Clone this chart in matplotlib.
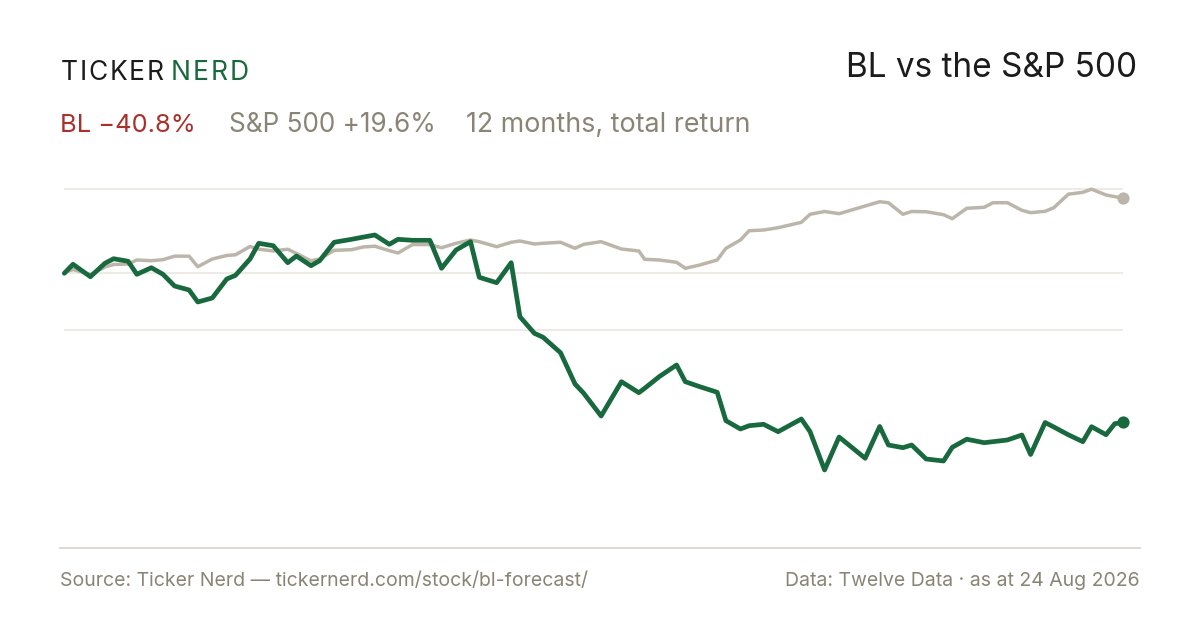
import matplotlib
matplotlib.use("Agg")
import matplotlib.pyplot as plt

plt.rcParams['font.family'] = ['Inter', 'DejaVu Sans']

# ---- data (day offset from 24 Aug 2025, cumulative total return in %) ----
days = [0, 3, 9, 14, 17, 22, 25, 30, 34, 38, 43, 46, 51, 56, 59, 64, 67, 72, 77, 80,
        85, 88, 93, 99, 103, 107, 112, 115, 120, 126, 130, 135, 140, 143, 149, 154, 157,
        162, 165, 171, 176, 179, 185, 192, 198, 200, 205, 211, 214, 219, 225, 228, 233,
        236, 241, 246, 254, 257, 262, 267, 276, 281, 284, 289, 292, 297, 303, 306, 311,
        317, 320, 325, 330, 333, 338, 341, 346, 351, 354, 359, 362, 365]

bl_return = [-0.73, 1.69, -1.65, 1.96, 3.19, 2.50, -1.00, 0.77, -1.00, -4.15, -5.22, -8.45,
             -7.37, -2.26, -1.27, 3.11, 7.34, 6.69, 2.12, 3.92, 1.31, 2.66, 7.61, 8.41, 9.00,
             9.57, 7.07, 8.41, 8.14, 8.14, 0.61, 5.53, 7.77, -1.81, -3.26, 2.12, -12.40,
             -16.87, -17.94, -22.08, -30.50, -33.00, -39.11, -29.88, -32.84, -31.66, -28.54,
             -25.39, -29.88, -31.23, -32.73, -40.37, -42.60, -41.72, -41.34, -43.33, -39.91,
             -43.33, -53.63, -44.76, -50.48, -41.93, -46.91, -47.63, -46.91, -50.67, -51.21,
             -47.53, -45.35, -46.29, -46.02, -45.56, -44.22, -49.46, -40.86, -42.07, -44.16,
             -46.02, -41.99, -44.14, -41.18, -40.80]

spx_return = [-0.52, 0.29, -1.05, 0.96, 1.64, 1.77, 2.85, 2.66, 2.93, 3.87, 3.87, 1.04,
              3.11, 4.06, 4.24, 6.48, 5.75, 5.27, 5.75, 4.59, 2.63, 3.11, 5.45, 5.62, 6.34,
              6.56, 5.35, 4.73, 6.99, 6.99, 6.15, 7.34, 8.22, 7.77, 6.42, 7.61, 7.96, 7.15,
              7.34, 7.61, 5.99, 7.07, 7.77, 5.80, 5.27, 3.03, 2.85, 2.23, 0.61, 1.50, 2.85,
              5.99, 8.22, 10.72, 10.91, 11.53, 12.98, 15.14, 15.89, 15.30, 17.37, 18.52,
              18.25, 15.14, 15.89, 15.83, 15.03, 13.95, 16.75, 17.02, 18.25, 18.25, 16.21,
              15.57, 15.94, 16.91, 20.54, 21.05, 21.89, 20.33, 19.87, 19.60]

grid_levels = [21.86, -0.73, -15.98]

title = "BL vs the S&P 500"
brand_dark = "TICKER"
brand_green = "NERD"
sub_bl = "BL \u221240.8%"
sub_spx = "S&P 500 +19.6%"
sub_period = "12 months, total return"
footer_left = "Source: Ticker Nerd \u2014 tickernerd.com/stock/bl-forecast/"
footer_right = "Data: Twelve Data \u00b7 as at 24 Aug 2026"

# ---- colours ----
GREEN = "#19693f"
GREY_LINE = "#bcb5aa"
RED = "#a8322b"
MUTED = "#8a8475"
DARK = "#1c1c1c"
GRID = "#ebe8e2"
BASE = "#dcd7cc"

W, H = 1200, 630
fig = plt.figure(figsize=(W / 100, H / 100), dpi=100)
fig.patch.set_facecolor("white")

def fx(px):
    return px / W

def fy(py):
    return 1 - py / H

# axes spanning px x 60..1140, y 170..548
ax = fig.add_axes([fx(60), fy(548), fx(1140) - fx(60), fy(170) - fy(548)])
ax.set_xlim(-1.48, 370.7)
ax.set_ylim(-74.61, 27.05)
for s in ["top", "left", "right"]:
    ax.spines[s].set_visible(False)
ax.spines["bottom"].set_color(BASE)
ax.spines["bottom"].set_linewidth(1.3)
ax.set_xticks([])
ax.set_yticks([])
ax.patch.set_alpha(0)

ax.hlines(grid_levels, days[0], days[-1], colors=GRID, linewidth=1.2, zorder=1)

ax.plot(days, spx_return, color=GREY_LINE, linewidth=2.5, solid_joinstyle="round",
        solid_capstyle="round", zorder=2)
ax.plot(days, bl_return, color=GREEN, linewidth=3.4, solid_joinstyle="round",
        solid_capstyle="round", zorder=3)
ax.plot([days[-1]], [spx_return[-1]], "o", color=GREY_LINE, markersize=8.8, zorder=4,
        markeredgewidth=0)
ax.plot([days[-1]], [bl_return[-1]], "o", color=GREEN, markersize=8.8, zorder=5,
        markeredgewidth=0)

# ---- brand (letter-spaced to fit measured span) ----
renderer = fig.canvas.get_renderer()

def tracked(word, x0, x1, y, color, size):
    texts = [fig.text(fx(x0), fy(y), ch, fontsize=size, color=color, ha="left",
                      va="baseline") for ch in word]
    widths = [t.get_window_extent(renderer).width for t in texts]
    track = ((x1 - x0) - sum(widths)) / (len(word) - 1)
    x = x0
    for t, w in zip(texts, widths):
        t.set_x(fx(x))
        x += w + track

tracked(brand_dark, 61, 163.5, 80, DARK, 19)
tracked(brand_green, 170.5, 248.5, 80, GREEN, 19)

# ---- title ----
fig.text(fx(1137), fy(77), title, fontsize=24, color=DARK, ha="right", va="baseline")

# ---- subtitle ----
fig.text(fx(60), fy(132), sub_bl, fontsize=18.3, color=RED, ha="left", va="baseline")
fig.text(fx(229), fy(132), sub_spx, fontsize=18.8, color=MUTED, ha="left", va="baseline")
fig.text(fx(466), fy(132), sub_period, fontsize=19.3, color=MUTED, ha="left", va="baseline")

# ---- footer ----
fig.text(fx(60), fy(586), footer_left, fontsize=14, color=MUTED, ha="left", va="baseline")
fig.text(fx(1140), fy(586), footer_right, fontsize=14, color=MUTED, ha="right", va="baseline")

fig.savefig("out.png", dpi=100, facecolor="white")
